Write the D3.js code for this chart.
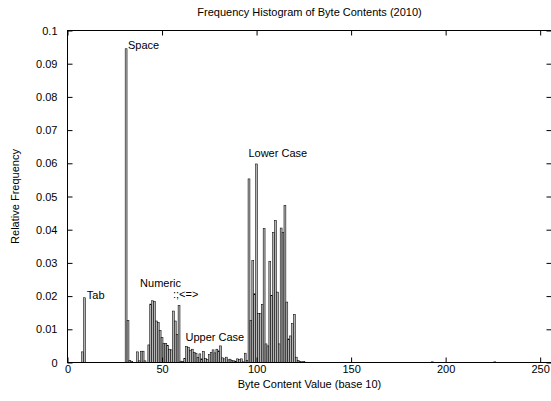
<!DOCTYPE html>
<html>
<head>
<meta charset="utf-8">
<script src="https://cdn.jsdelivr.net/npm/d3@7"></script>
<style>
  html, body { margin: 0; padding: 0; background: #fff; }
  svg { display: block; }
  text { font-family: "Liberation Sans", Arial, Helvetica, sans-serif; font-size: 11px; fill: #000; }
</style>
</head>
<body>
<svg id="chart" width="551" height="401"></svg>
<script>
// Byte values present in the sample and their relative frequency
const byteValues = [
  8, 9,
  31, 32, 33, 34,
  37, 38, 39, 40, 41,
  43, 44, 45, 46, 47, 48, 49, 50, 51, 52, 53, 54, 55,
  56, 57, 58, 59, 60, 61, 62,
  63, 64, 65, 66, 67, 68, 69, 70, 71, 72, 73, 74, 75, 76, 77, 78, 79, 80,
  81, 82, 83, 84, 85, 86, 87, 88, 89, 90, 91, 92, 93, 94, 95,
  96, 97, 98, 99, 100, 101, 102, 103, 104, 105, 106, 107, 108, 109, 110,
  111, 112, 113, 114, 115, 116, 117, 118, 119, 120, 121, 122,
  123, 124, 125, 126, 193, 226
];
const frequencies = [
  0.0032, 0.0195,
  0.0945, 0.0126, 0.0006, 0.0003,
  0.0032, 0.0005, 0.0034, 0.0034, 0.0005,
  0.0053, 0.0176, 0.0186, 0.0184, 0.0125, 0.0121, 0.0097, 0.0075, 0.0058, 0.0057, 0.0052, 0.0040, 0.0038,
  0.0155, 0.0125, 0.0085, 0.0172, 0.0004, 0.0003, 0.0012,
  0.0048, 0.0046, 0.0037, 0.0040, 0.0030, 0.0028, 0.0015, 0.0026, 0.0011, 0.0033, 0.0012, 0.0009, 0.0024, 0.0030, 0.0038, 0.0029, 0.0040, 0.0035,
  0.0050, 0.0014, 0.0011, 0.0016, 0.0008, 0.0010, 0.0006, 0.0005, 0.0004, 0.0011, 0.0009, 0.0011, 0.0002, 0.0028, 0.0006,
  0.0553, 0.0126, 0.0307, 0.0207, 0.0598, 0.0147, 0.0147, 0.0175, 0.0403, 0.0056, 0.0050, 0.0305, 0.0202, 0.0392, 0.0428,
  0.0212, 0.0056, 0.0405, 0.0392, 0.0473, 0.0182, 0.0071, 0.0080, 0.0117, 0.0145, 0.0016, 0.0006,
  0.0003, 0.0002, 0.0003, 0.0001, 0.0002, 0.0002
];

// Axis ticks
const xTicks = [0, 50, 100, 150, 200, 250];
const yTicks = [0, 0.01, 0.02, 0.03, 0.04, 0.05, 0.06, 0.07, 0.08, 0.09, 0.1];
const yTickLabels = ["0", "0.01", "0.02", "0.03", "0.04", "0.05", "0.06", "0.07", "0.08", "0.09", "0.1"];

// Annotations, anchored at (byte value, frequency)
const labelTexts = ["Tab", "Space", "Numeric", ":;<=>", "Upper Case", "Lower Case"];
const labelBytes = [10.2, 32, 38.4, 55.8, 62.4, 95.7];
const labelFreqs = [0.0190, 0.0943, 0.0227, 0.0193, 0.0066, 0.0619];

const titleText = "Frequency Histogram of Byte Contents (2010)";
const xTitle = "Byte Content Value (base 10)";
const yTitle = "Relative Frequency";

const svg = d3.select("#chart");
const plot = { left: 67.5, right: 551.5, top: 30.5, bottom: 362.5 };

const x = d3.scaleLinear().domain([0, 256]).range([plot.left, plot.right]);
const y = d3.scaleLinear().domain([0, 0.1]).range([plot.bottom, plot.top]);

const data = byteValues.map((b, i) => ({ b, f: frequencies[i] }));

// Bars
svg.append("g")
  .selectAll("rect")
  .data(data)
  .join("rect")
  .attr("x", d => x(d.b - 0.5))
  .attr("width", d => x(d.b + 0.5) - x(d.b - 0.5))
  .attr("y", d => y(d.f))
  .attr("height", d => y(0) - y(d.f))
  .attr("fill", "#b4b4b4")
  .attr("stroke", "#000")
  .attr("stroke-width", 0.55);

// Axes with inward ticks, mirrored on top and right
const tickLen = 5;
const axisBottom = d3.axisBottom(x).tickValues(xTicks).tickSizeInner(-tickLen).tickSizeOuter(0).tickPadding(3).tickFormat(d3.format("d"));
const axisTop = d3.axisTop(x).tickValues(xTicks).tickSizeInner(-tickLen).tickSizeOuter(0).tickFormat("");
const axisLeft = d3.axisLeft(y).tickValues(yTicks).tickSizeInner(-tickLen).tickSizeOuter(0).tickPadding(10)
  .tickFormat((d, i) => yTickLabels[i]);
const axisRight = d3.axisRight(y).tickValues(yTicks).tickSizeInner(-tickLen).tickSizeOuter(0).tickFormat("");

function styleAxis(g) {
  g.select(".domain").remove();
  g.selectAll(".tick line").attr("stroke", "#000").attr("stroke-width", 1);
  g.selectAll(".tick text").attr("fill", "#000").style("font-size", "11px")
    .style("font-family", "'Liberation Sans', Arial, sans-serif");
}

svg.append("g").attr("transform", `translate(0,${plot.bottom})`).call(axisBottom).call(styleAxis);
svg.append("g").attr("transform", `translate(0,${plot.top})`).call(axisTop).call(styleAxis);
svg.append("g").attr("transform", `translate(${plot.left},0)`).call(axisLeft).call(styleAxis);
svg.append("g").attr("transform", `translate(${plot.right},0)`).call(axisRight).call(styleAxis);

// Plot border
svg.append("rect")
  .attr("x", plot.left).attr("y", plot.top)
  .attr("width", plot.right - plot.left).attr("height", plot.bottom - plot.top)
  .attr("fill", "none").attr("stroke", "#000").attr("stroke-width", 1);

// Annotations
svg.append("g")
  .selectAll("text")
  .data(labelTexts)
  .join("text")
  .attr("x", (d, i) => x(labelBytes[i]))
  .attr("y", (d, i) => y(labelFreqs[i]))
  .text(d => d);

// Titles
svg.append("text").attr("x", (plot.left + plot.right) / 2).attr("y", 16)
  .attr("text-anchor", "middle").text(titleText);
svg.append("text").attr("x", (plot.left + plot.right) / 2).attr("y", 388)
  .attr("text-anchor", "middle").text(xTitle);
svg.append("text")
  .attr("transform", `translate(19,${(plot.top + plot.bottom) / 2}) rotate(-90)`)
  .attr("text-anchor", "middle").text(yTitle);
</script>
</body>
</html>
